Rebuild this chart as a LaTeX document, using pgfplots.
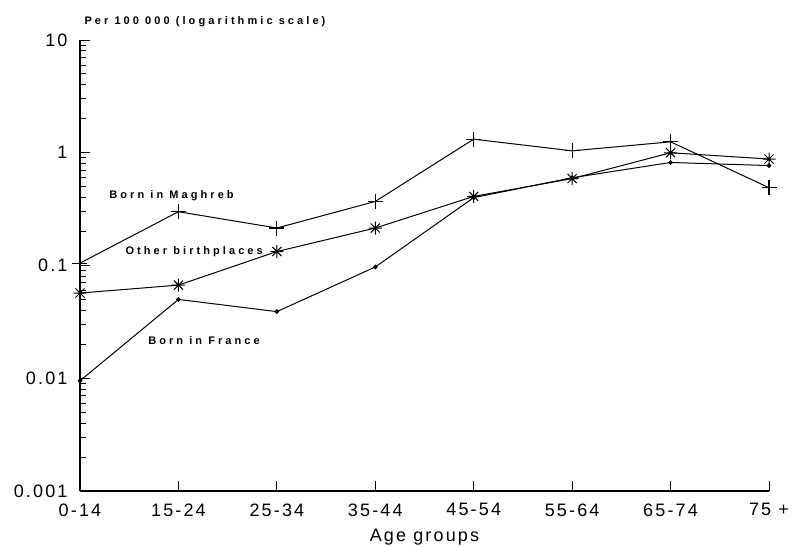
\documentclass[border=0pt]{standalone}
\usepackage{fontspec}
\setmainfont{Liberation Sans}
\newfontfamily\lblfont{Liberation Sans}[LetterSpace=28]
\newfontfamily\tickfont{Liberation Sans}[LetterSpace=12]
\usepackage{pgfplots}
\pgfplotsset{compat=1.18}
\pgfdeclareplotmark{ast8}{%
  \pgfpathmoveto{\pgfqpoint{0pt}{\pgfplotmarksize}}\pgfpathlineto{\pgfqpoint{0pt}{-\pgfplotmarksize}}%
  \pgfpathmoveto{\pgfqpoint{\pgfplotmarksize}{0pt}}\pgfpathlineto{\pgfqpoint{-\pgfplotmarksize}{0pt}}%
  \pgfpathmoveto{\pgfqpoint{0.7\pgfplotmarksize}{0.7\pgfplotmarksize}}\pgfpathlineto{\pgfqpoint{-0.7\pgfplotmarksize}{-0.7\pgfplotmarksize}}%
  \pgfpathmoveto{\pgfqpoint{0.7\pgfplotmarksize}{-0.7\pgfplotmarksize}}\pgfpathlineto{\pgfqpoint{-0.7\pgfplotmarksize}{0.7\pgfplotmarksize}}%
  \pgfusepathqstroke}
\begin{document}
\begin{tikzpicture}
\begin{axis}[name=ax, scale only axis, width=689bp, height=451bp,
  xmin=0, xmax=7, ymin=0.001, ymax=10, ymode=log, clip=false,
  axis lines=left, axis line style={-, line width=1.1bp},
  xtick={0,...,7}, xticklabels={0-14,15-24,25-34,35-44,45-54,55-64,65-74,75 +},
  ytick={0.001,0.01,0.1,1,10}, yticklabels={0.001,0.01,0.1,1,10},
  tick align=inside, major tick length=10bp, minor tick length=6bp,
  every tick/.style={black, line width=1bp},
  ticklabel style={font=\fontsize{18bp}{20bp}\selectfont\tickfont},
  yticklabel style={xshift=-9bp},
  xticklabel style={yshift=-9bp},
  xlabel={Age groups}, xlabel style={font=\fontsize{18bp}{20bp}\selectfont\tickfont, yshift=-6bp},
]
\addplot[black, line width=1bp, mark=+, mark size=7.5bp, mark options={line width=1.1bp}] coordinates {
(0,0.105) (1,0.30) (2,0.215) (3,0.37) (4,1.32) (5,1.04) (6,1.25) (7,0.49)};
\addplot[black, line width=1bp, mark=ast8, mark size=6.5bp, mark options={line width=1bp}] coordinates {
(0,0.057) (1,0.067) (2,0.133) (3,0.215) (4,0.41) (5,0.59) (6,1.0) (7,0.88)};
\addplot[black, line width=1bp, mark=*, mark size=1.8bp] coordinates {
(0,0.0095) (1,0.050) (2,0.039) (3,0.097) (4,0.40) (5,0.60) (6,0.82) (7,0.77)};
\node[font=\fontsize{11bp}{12bp}\selectfont\lblfont\bfseries, anchor=west] at (rel axis cs:0,1) [yshift=18bp, xshift=1bp] {Per 100 000 (logarithmic scale)};
\node[font=\fontsize{11bp}{12bp}\selectfont\lblfont\bfseries] at (axis cs:0.93,0.42) {Born in Maghreb};
\node[font=\fontsize{11bp}{12bp}\selectfont\lblfont\bfseries] at (axis cs:1.16,0.132) {Other birthplaces};
\node[font=\fontsize{11bp}{12bp}\selectfont\lblfont\bfseries] at (axis cs:1.26,0.0218) {Born in France};
\end{axis}
\pgfresetboundingbox
\path ([shift={(-80bp,-56bp)}]ax.south west) rectangle ([shift={(23bp,40bp)}]ax.north east);
\end{tikzpicture}
\end{document}
